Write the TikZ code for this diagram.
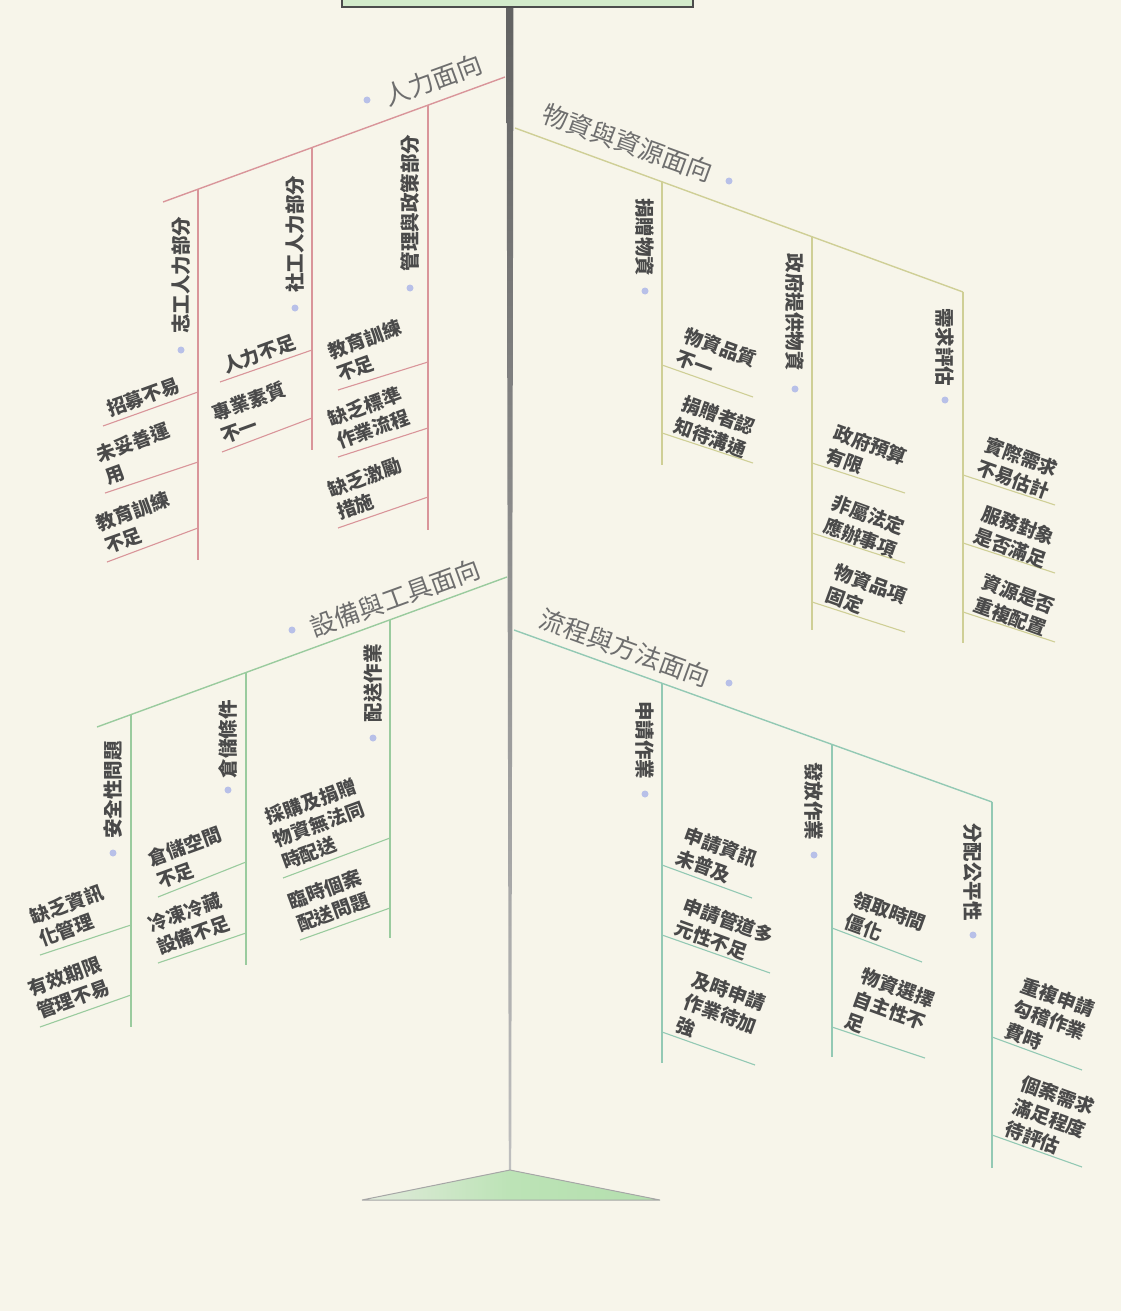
\documentclass[tikz,border=0pt]{standalone}
\usepackage{fontspec}
\setmainfont{Noto Sans CJK TC}
\usetikzlibrary{calc}
\definecolor{bg}{HTML}{F7F5EA}
\definecolor{txt}{HTML}{4A4A4A}
\definecolor{lbl}{HTML}{6E6E6E}
\definecolor{cRed}{HTML}{D9959A}
\definecolor{cOli}{HTML}{CFCF96}
\definecolor{cGrn}{HTML}{9ACB9E}
\definecolor{cTeal}{HTML}{93C9B4}
\definecolor{dotc}{HTML}{B8C0E8}
\definecolor{boxg}{HTML}{D3EBCB}
\definecolor{triL}{HTML}{E2EBDC}
\definecolor{triM}{HTML}{BCE3B6}
\definecolor{triR}{HTML}{B4DFAE}
\newcommand{\leafsz}{\fontsize{19}{24}\selectfont\bfseries}
\newcommand{\subsz}{\fontsize{19.5}{21}\selectfont\bfseries}
\newcommand{\mainsz}{\fontsize{25.5}{28}\selectfont}
\begin{document}
\begin{tikzpicture}[x=1pt,y=-1pt,
  leafL/.style={rotate=20, anchor=south west, align=left, font=\leafsz, text=txt, inner sep=1pt},
  leafR/.style={rotate=-20, anchor=south west, align=left, font=\leafsz, text=txt, inner sep=1pt},
  subL/.style={rotate=90, font=\subsz, text=txt, inner sep=0pt},
  subR/.style={rotate=-90, font=\subsz, text=txt, inner sep=0pt},
  mainL/.style={rotate=20, font=\mainsz, text=lbl, inner sep=0pt},
  mainR/.style={rotate=-20, font=\mainsz, text=lbl, inner sep=0pt},
  dotn/.style={circle, fill=dotc, minimum size=7pt, inner sep=0pt},
  br/.style={line width=1.4pt},
  ul/.style={line width=1.1pt}]
\useasboundingbox (0,0) rectangle (1121,1311);
\fill[bg] (0,0) rectangle (1121,1311);

% spine
\shade[top color=black!62, bottom color=black!25] (506.5,0) -- (513.5,0) -- (511.2,1170) -- (508.8,1170) -- cycle;
\coordinate (spTop) at (510,0);
\coordinate (spBot) at (510,1170);
% top box
\node[draw=black!70, fill=boxg, line width=1.2pt, minimum width=351pt, minimum height=20pt, inner sep=0pt] (head) at (517.5,-3) {};
% bottom triangle
\shade[left color=triL, right color=triR, middle color=triM, draw=black!35, line width=1pt] (spBot) -- (660,1200) -- (362,1200) -- cycle;

%================ 人力面向 =================
\coordinate (A0) at (505,77);
\coordinate (A1) at (163,202);
\draw[cRed, br] (A0) -- (A1);
\node[dotn] (Ad) at (367,100) {};
\node[mainL] (Am) at (433,80) {人力面向};
\coordinate (A1t) at (198,189.2); \coordinate (A1b) at (198,560);
\coordinate (A2t) at (312,147.5); \coordinate (A2b) at (312,450);
\coordinate (A3t) at (428,105.1); \coordinate (A3b) at (428,530);
\draw[cRed, br] (A1t) -- (A1b) (A2t) -- (A2b) (A3t) -- (A3b);
\node[subL] (As1) at (181,275) {志工人力部分}; \node[dotn] (As1d) at (181,350) {};
\node[subL] (As2) at (295,234) {社工人力部分}; \node[dotn] (As2d) at (295,308) {};
\node[subL] (As3) at (410,203) {管理與政策部分}; \node[dotn] (As3d) at (410,288) {};
% leaves
\coordinate (Au1a) at (103,426); \coordinate (Au1b) at (198,392);
\coordinate (Au2a) at (105,493); \coordinate (Au2b) at (198,462);
\coordinate (Au3a) at (107,562); \coordinate (Au3b) at (198,528);
\coordinate (Au4a) at (220,382); \coordinate (Au4b) at (312,350);
\coordinate (Au5a) at (222,452); \coordinate (Au5b) at (312,418);
\coordinate (Au6a) at (338,390); \coordinate (Au6b) at (428,362);
\coordinate (Au7a) at (338,457); \coordinate (Au7b) at (428,428);
\coordinate (Au8a) at (338,528); \coordinate (Au8b) at (428,497);
\foreach \i in {1,...,8} \draw[cRed, ul] (Au\i a) -- (Au\i b);
\node[leafL] (Al1) at (110,420) {招募不易};
\node[leafL] (Al2) at (108,488) {未妥善運\\用};
\node[leafL] (Al3) at (108,557) {教育訓練\\不足};
\node[leafL] (Al4) at (226,377) {人力不足};
\node[leafL] (Al5) at (224,447) {專業素質\\不一};
\node[leafL] (Al6) at (340,385) {教育訓練\\不足};
\node[leafL] (Al7) at (340,452) {缺乏標準\\作業流程};
\node[leafL] (Al8) at (340,523) {缺乏激勵\\措施};

%================ 物資與資源面向 =================
\coordinate (B0) at (515,128);
\coordinate (B1) at (963,292);
\draw[cOli, br] (B0) -- (B1);
\node[mainR] (Bm) at (628,143) {物資與資源面向};
\node[dotn] (Bd) at (729,181) {};
\coordinate (B1t) at (662,181.8); \coordinate (B1b) at (662,465);
\coordinate (B2t) at (812,236.7); \coordinate (B2b) at (812,630);
\coordinate (B3t) at (963,292); \coordinate (B3b) at (963,643);
\draw[cOli, br] (B1t) -- (B1b) (B2t) -- (B2b) (B3t) -- (B3b);
\node[subR] (Bs1) at (645,237) {捐贈物資}; \node[dotn] (Bs1d) at (645,291) {};
\node[subR] (Bs2) at (795,312) {政府提供物資}; \node[dotn] (Bs2d) at (795,389) {};
\node[subR] (Bs3) at (945,347) {需求評估}; \node[dotn] (Bs3d) at (945,400) {};
\coordinate (Bu1a) at (662,365); \coordinate (Bu1b) at (753,397);
\coordinate (Bu2a) at (662,433); \coordinate (Bu2b) at (753,463);
\coordinate (Bu3a) at (812,463); \coordinate (Bu3b) at (905,493);
\coordinate (Bu4a) at (812,533); \coordinate (Bu4b) at (905,563);
\coordinate (Bu5a) at (812,602); \coordinate (Bu5b) at (905,632);
\coordinate (Bu6a) at (963,475); \coordinate (Bu6b) at (1055,505);
\coordinate (Bu7a) at (963,543); \coordinate (Bu7b) at (1055,573);
\coordinate (Bu8a) at (963,612); \coordinate (Bu8b) at (1055,642);
\foreach \i in {1,...,8} \draw[cOli, ul] (Bu\i a) -- (Bu\i b);
\node[leafR] (Bl1) at (672,366) {物資品質\\不一};
\node[leafR] (Bl2) at (670,434) {捐贈者認\\知待溝通};
\node[leafR] (Bl3) at (822,464) {政府預算\\有限};
\node[leafR] (Bl4) at (820,534) {非屬法定\\應辦事項};
\node[leafR] (Bl5) at (822,603) {物資品項\\固定};
\node[leafR] (Bl6) at (973,476) {實際需求\\不易估計};
\node[leafR] (Bl7) at (970,544) {服務對象\\是否滿足};
\node[leafR] (Bl8) at (970,613) {資源是否\\重複配置};

%================ 設備與工具面向 =================
\coordinate (C0) at (507,577);
\coordinate (C1) at (97,727);
\draw[cGrn, br] (C0) -- (C1);
\node[dotn] (Cd) at (292,630) {};
\node[mainL] (Cm) at (395,598) {設備與工具面向};
\coordinate (C1t) at (131,714.6); \coordinate (C1b) at (131,1027);
\coordinate (C2t) at (246,672.5); \coordinate (C2b) at (246,965);
\coordinate (C3t) at (390,619.8); \coordinate (C3b) at (390,938);
\draw[cGrn, br] (C1t) -- (C1b) (C2t) -- (C2b) (C3t) -- (C3b);
\node[subL] (Cs1) at (113,790) {安全性問題}; \node[dotn] (Cs1d) at (113,853) {};
\node[subL] (Cs2) at (228,739) {倉儲條件}; \node[dotn] (Cs2d) at (228,790) {};
\node[subL] (Cs3) at (373,683) {配送作業}; \node[dotn] (Cs3d) at (373,738) {};
\coordinate (Cu1a) at (40,955); \coordinate (Cu1b) at (131,925);
\coordinate (Cu2a) at (40,1027); \coordinate (Cu2b) at (131,995);
\coordinate (Cu3a) at (158,897); \coordinate (Cu3b) at (246,862);
\coordinate (Cu4a) at (158,963); \coordinate (Cu4b) at (246,933);
\coordinate (Cu5a) at (283,878); \coordinate (Cu5b) at (390,838);
\coordinate (Cu6a) at (300,940); \coordinate (Cu6b) at (390,908);
\foreach \i in {1,...,6} \draw[cGrn, ul] (Cu\i a) -- (Cu\i b);
\node[leafL] (Cl1) at (42,950) {缺乏資訊\\化管理};
\node[leafL] (Cl2) at (40,1022) {有效期限\\管理不易};
\node[leafL] (Cl3) at (160,892) {倉儲空間\\不足};
\node[leafL] (Cl4) at (160,958) {冷凍冷藏\\設備不足};
\node[leafL] (Cl5) at (285,873) {採購及捐贈\\物資無法同\\時配送};
\node[leafL] (Cl6) at (300,935) {臨時個案\\配送問題};

%================ 流程與方法面向 =================
\coordinate (D0) at (514,630);
\coordinate (D1) at (992,802);
\draw[cTeal, br] (D0) -- (D1);
\node[mainR] (Dm) at (625,648) {流程與方法面向};
\node[dotn] (Dd) at (729,683) {};
\coordinate (D1t) at (662,683.3); \coordinate (D1b) at (662,1063);
\coordinate (D2t) at (832,744.5); \coordinate (D2b) at (832,1057);
\coordinate (D3t) at (992,802); \coordinate (D3b) at (992,1168);
\draw[cTeal, br] (D1t) -- (D1b) (D2t) -- (D2b) (D3t) -- (D3b);
\node[subR] (Ds1) at (645,740) {申請作業}; \node[dotn] (Ds1d) at (645,794) {};
\node[subR] (Ds2) at (814,801) {發放作業}; \node[dotn] (Ds2d) at (814,855) {};
\node[subR] (Ds3) at (973,872) {分配公平性}; \node[dotn] (Ds3d) at (973,935) {};
\coordinate (Du1a) at (662,865); \coordinate (Du1b) at (752,898);
\coordinate (Du2a) at (662,935); \coordinate (Du2b) at (770,973);
\coordinate (Du3a) at (662,1032); \coordinate (Du3b) at (755,1065);
\coordinate (Du4a) at (832,928); \coordinate (Du4b) at (922,962);
\coordinate (Du5a) at (832,1027); \coordinate (Du5b) at (925,1058);
\coordinate (Du6a) at (992,1037); \coordinate (Du6b) at (1082,1070);
\coordinate (Du7a) at (992,1135); \coordinate (Du7b) at (1082,1167);
\foreach \i in {1,...,7} \draw[cTeal, ul] (Du\i a) -- (Du\i b);
\node[leafR] (Dl1) at (672,866) {申請資訊\\未普及};
\node[leafR] (Dl2) at (671,936) {申請管道多\\元性不足};
\node[leafR] (Dl3) at (672,1033) {及時申請\\作業待加\\強};
\node[leafR] (Dl4) at (841,930) {領取時間\\僵化};
\node[leafR] (Dl5) at (841,1029) {物資選擇\\自主性不\\足};
\node[leafR] (Dl6) at (1001,1039) {重複申請\\勾稽作業\\費時};
\node[leafR] (Dl7) at (1001,1137) {個案需求\\滿足程度\\待評估};
\end{tikzpicture}
\end{document}
